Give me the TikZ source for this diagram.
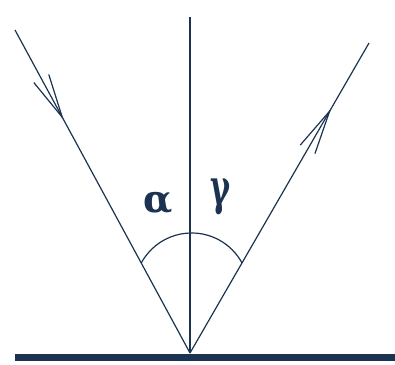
\documentclass[tikz,border=0pt]{standalone}
\usepackage{fontspec}
\setmainfont{Liberation Serif}
\newfontfamily\greekfont{DejaVu Serif}
\usetikzlibrary{calc,decorations.markings}
\definecolor{ink}{HTML}{1B3350}

\begin{document}
\begin{tikzpicture}[
  x=1pt, y=1pt,
  ray/.style={draw=ink, line width=1.2pt},
  normal/.style={draw=ink, line width=1.6pt},
  surface/.style={draw=ink, line width=7pt},
  barbs/.style={postaction=decorate, decoration={markings, mark=at position #1 with {\draw[ink, line width=1.2pt] (-44,8.5) -- (0,0) -- (-44,-8.5);}}},
  glyph/.style={inner sep=0pt, text=ink, font=\greekfont\bfseries\fontsize{38}{38}\selectfont}
]
\useasboundingbox (0,0) rectangle (395,364);
\coordinate (O) at (190,11);
\coordinate (N) at (190,347);
\coordinate (A) at (15,334);
\coordinate (B) at (369,321);
\coordinate (sl) at (15,7);
\coordinate (sr) at (395,7);
\coordinate (aL) at ($(O)!0.2786!(A)$);
\coordinate (aR) at ($(O)!0.2903!(B)$);

\draw[surface] (sl) -- (sr);
\draw[normal] (O) -- (N);
\draw[ray, barbs=0.27] (A) -- (O);
\draw[ray, barbs=0.78] (O) -- (B);
\draw[ray] (aL) arc[start angle=151.6, end angle=28.4, radius=57.3];

\node[glyph] (alpha) at (158,161) {α};
\node[glyph] (gamma) at (221,167) {\scalebox{0.8}[1.3]{γ}};
\end{tikzpicture}
\end{document}
